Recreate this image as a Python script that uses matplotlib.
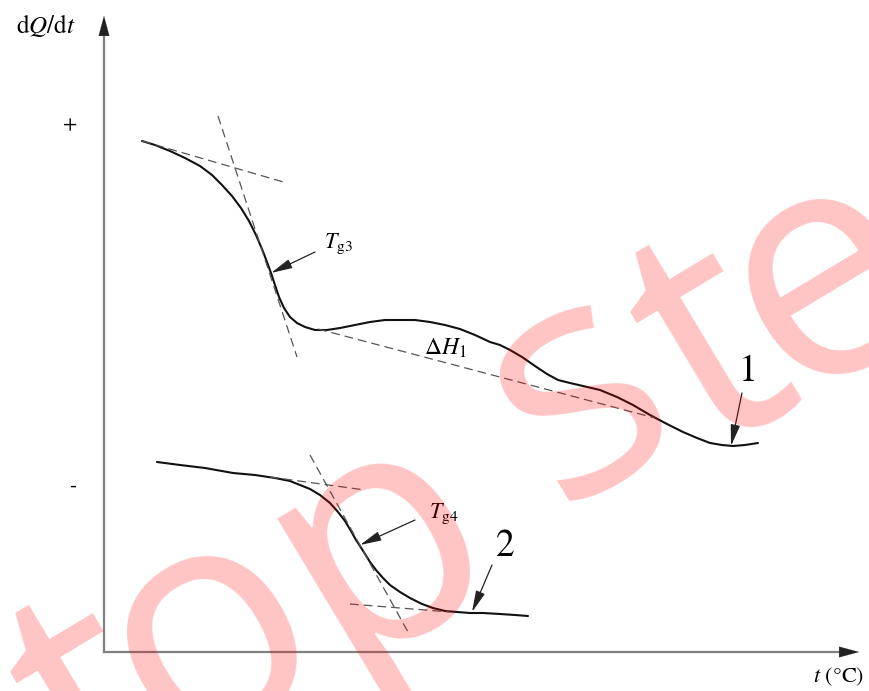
import matplotlib.pyplot as plt

plt.rcParams['font.family'] = 'STIXGeneral'
plt.rcParams['mathtext.fontset'] = 'stix'

# curve readings in picture units (x right, y down)
curve1_x = [142, 155, 170, 185, 200, 212, 222, 232, 241, 249, 256, 262, 267, 271, 275, 279,
            284, 290, 297, 305, 315, 327, 340, 355, 370, 385, 400, 415, 430, 445, 460, 475,
            490, 500, 510, 522, 535, 547, 558, 570, 583, 600, 617, 633, 650, 667, 683, 697,
            710, 722, 733, 745, 758]
curve1_y = [141, 145, 151, 158, 166, 175, 185, 196, 208, 221, 235, 249, 262, 273, 285, 297,
            308, 317, 323, 327, 330, 330, 328, 325, 322, 320, 320, 320, 322, 325, 329, 335,
            342, 345, 350, 357, 366, 374, 380, 383, 386, 390, 397, 405, 415, 424, 432, 438,
            443, 445, 446, 445, 443]

curve2_x = [157, 180, 205, 233, 255, 275, 290, 300, 310, 320, 330, 338, 345, 351, 356, 360,
            365, 370, 376, 383, 390, 400, 410, 422, 433, 445, 457, 470, 483, 500, 515, 528]
curve2_y = [462, 465, 468, 473, 475, 478, 481, 485, 489, 495, 503, 512, 521, 531, 540, 546,
            554, 562, 570, 578, 585, 592, 598, 604, 608, 611, 612, 613, 613, 614, 615, 616]

# dashed construction lines: (x0, y0, x1, y1)
tangents = [
    (142, 141, 287, 183),
    (218, 116, 297, 357),
    (318, 329, 655, 418),
    (270, 477, 365, 490),
    (310, 455, 408, 632),
    (350, 604, 450, 612),
]

# labels: text, text position, arrow start, arrow tip, size
labels = [
    (r'$T_{\mathrm{g3}}$', (338, 244), (315, 252), (271, 273), 16),
    (r'$T_{\mathrm{g4}}$', (444, 514), (415, 520), (360, 545), 16),
    ('1', (748, 372), (742, 393), (731, 446), 27),
    ('2', (505, 547), (492, 565), (472, 612), 27),
]

# watermark letters and where they sit
wm_letters = ['t', 'o', 'p', 's', 't', 'e']
wm_x = [96, 210, 380, 580, 716, 826]
wm_y = [712, 638, 544, 396, 352, 282]

fig = plt.figure(figsize=(8.7, 6.91), dpi=100)
ax = fig.add_axes([0, 0, 1, 1])
ax.set_xlim(0, 870)
ax.set_ylim(691, 0)
ax.axis('off')

# axes with arrows
ax.plot([104, 104], [652, 30], color='#808080', lw=1.6)
ax.plot([104, 845], [652, 652], color='#808080', lw=1.6)
ax.annotate('', xy=(104, 13), xytext=(104, 34),
            arrowprops=dict(arrowstyle='-|>,head_length=1.3,head_width=0.35',
                            color='#222222', lw=0.1, mutation_scale=11))
ax.annotate('', xy=(862, 652), xytext=(841, 652),
            arrowprops=dict(arrowstyle='-|>,head_length=1.3,head_width=0.35',
                            color='#222222', lw=0.1, mutation_scale=11))

ax.text(46, 25, r'$\mathrm{d}Q/\mathrm{d}t$', fontsize=18, ha='center', va='center')
ax.text(70, 125, '+', fontsize=15, ha='center', va='center')
ax.text(73, 487, '-', fontsize=15, ha='center', va='center')
ax.text(839, 677, r'$t$ (°C)', fontsize=16, ha='center', va='center')

ax.plot(curve1_x, curve1_y, color='#111111', lw=1.5, solid_capstyle='round')
ax.plot(curve2_x, curve2_y, color='#111111', lw=1.5, solid_capstyle='round')

for x0, y0, x1, y1 in tangents:
    ax.plot([x0, x1], [y0, y1], color='#555555', lw=0.9, dashes=(7, 4))

ax.text(445, 348, r'$\Delta H_1$', fontsize=17, ha='center', va='center')

for txt, pos, start, tip, size in labels:
    ax.text(pos[0], pos[1], txt, fontsize=size, ha='center', va='center')
    ax.annotate('', xy=tip, xytext=start,
                arrowprops=dict(arrowstyle='-|>,head_length=1.0,head_width=0.22',
                                color='#222222', lw=0.9, mutation_scale=13,
                                shrinkA=0, shrinkB=0))

# watermark on top, semi-transparent
for ch, x, y in zip(wm_letters, wm_x, wm_y):
    ax.text(x, y, ch, fontsize=232, family='Open Sans', color='red', alpha=0.23,
            rotation=31, rotation_mode='anchor', ha='center', va='center', zorder=10)

fig.savefig('out.png', dpi=100)
